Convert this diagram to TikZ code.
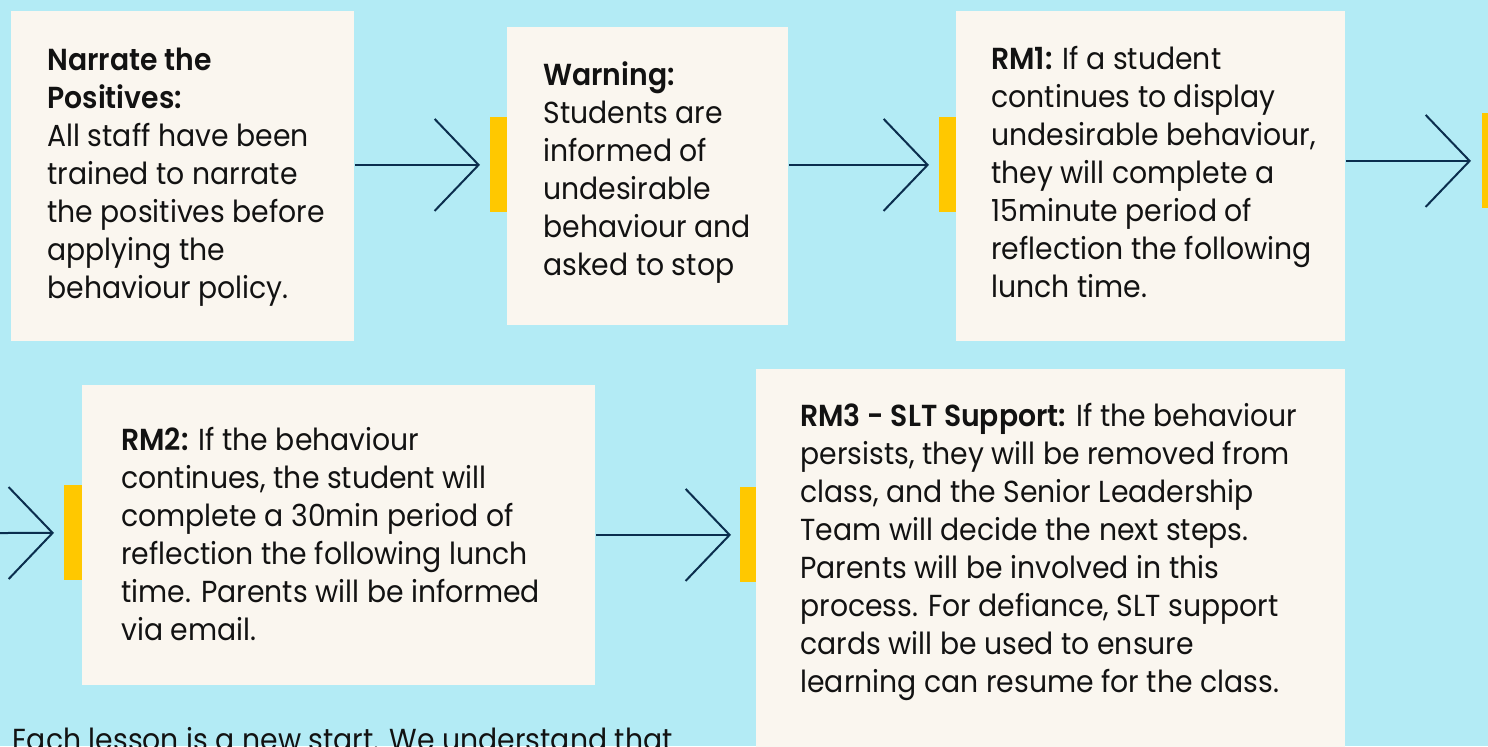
\documentclass[tikz,border=0pt]{standalone}
\usepackage{fontspec}
\setmainfont{Poppins}[FakeStretch=0.93, BoldFont={Poppins SemiBold}, BoldFeatures={FakeStretch=0.93}]
\usepackage{tikz}
\usetikzlibrary{arrows.meta}

\definecolor{skyback}{HTML}{B3EBF5}
\definecolor{cardfill}{HTML}{FAF6EF}
\definecolor{markbar}{HTML}{FFC800}
\definecolor{navyline}{HTML}{0B2E4E}

\begin{document}
\begin{tikzpicture}[x=0.5pt,y=-0.5pt]%[node distance=2cm]
          \tikzstyle{card} = [fill=cardfill, inner sep=0pt, anchor=north west]
          \tikzstyle{txt} = [inner sep=0pt, anchor=north west, align=left, text=black!93, font=\fontsize{15.2}{19}\selectfont]
          \tikzstyle{bar} = [fill=markbar, inner sep=0pt, anchor=north west, minimum width=8.5pt, minimum height=47.5pt]
          \tikzstyle{flow} = [draw=navyline, line width=1pt, -{Straight Barb[length=22pt, width=46pt]}]
        \clip (0,0) rectangle (1488,746);
        \fill[skyback] (0,0) rectangle (1488,746);
        % steps
        \node[card, minimum width=171.5pt, minimum height=165pt] (box1) at (11,11) {};
        \node[card, minimum width=140.5pt, minimum height=149pt] (box2) at (507,27) {};
        \node[card, minimum width=194.5pt, minimum height=165pt] (box3) at (956,11) {};
        \node[card, minimum width=256.5pt, minimum height=150pt] (box4) at (82,385) {};
        \node[card, minimum width=294.5pt, minimum height=200pt] (box5) at (756,369) {};
        \node[bar] (bar1) at (490,117) {};
        \node[bar] (bar2) at (939,117) {};
        \node[bar] (bar3) at (1482,113) {};
        \node[bar, minimum width=9pt] (bar4) at (64,485) {};
        \node[bar, minimum width=8pt] (bar5) at (740,487) {};
        \node[txt] (txt1) at (47,48) {\textbf{Narrate the}\\\textbf{Positives:}\\All staff have been\\trained to narrate\\the positives before\\applying the\\behaviour policy.};
        \node[txt] (txt2) at (543,61) {\textbf{Warning:}\\Students are\\informed of\\undesirable\\behaviour and\\asked to stop};
        \node[txt] (txt3) at (991,46) {\textbf{RM1:} If a student\\continues to display\\undesirable behaviour,\\they will complete a\\15minute period of\\reflection the following\\lunch time.};
        \node[txt] (txt4) at (121,427) {\textbf{RM2:} If the behaviour\\continues, the student will\\complete a 30min period of\\reflection the following lunch\\time. Parents will be informed\\via email.};
        \node[txt] (txt5) at (800,403) {\textbf{RM3 - SLT Support:} If the behaviour\\persists, they will be removed from\\class, and the Senior Leadership\\Team will decide the next steps.\\Parents will be involved in this\\process. For defiance, SLT support\\cards will be used to ensure\\learning can resume for the class.};
        \node[txt] (note) at (12,727) {Each lesson is a new start. We understand that};
        \coordinate (edge) at (0,533);
        \begin{scope}
          \draw[flow] (box1.east |- bar1.west) -- ([xshift=-5pt]bar1.west);
          \draw[flow] (box2.east |- bar2.west) -- ([xshift=-5pt]bar2.west);
          \draw[flow] (box3.east |- bar3.west) -- ([xshift=-5.5pt]bar3.west);
          \draw[flow] (edge) -- ([xshift=-5pt]bar4.west);
          \draw[flow] (box4.east |- bar5.west) -- ([xshift=-4.5pt]bar5.west);
        \end{scope}
      \end{tikzpicture}
\end{document}
